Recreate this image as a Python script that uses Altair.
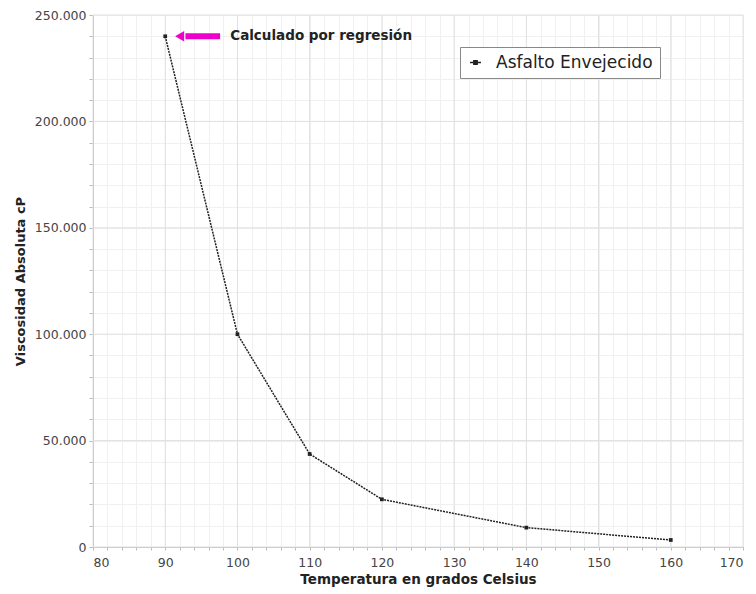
import altair as alt
import pandas as pd
import numpy as np

# Data
temps = [90, 100, 110, 120, 140, 160]
visc = [240000, 100000, 43700, 22400, 9100, 3300]
series_name = "Asfalto Envejecido"

# Axis ticks
x_major = [80, 90, 100, 110, 120, 130, 140, 150, 160, 170]
y_major = [0, 50000, 100000, 150000, 200000, 250000]
x_minor = list(range(80, 171, 2))
y_minor = list(range(0, 250001, 10000))

# Annotation
ann_text = "Calculado por regresión"
ann_y = [240000]
arrow_x = [92.0, 97.6]
text_x = [99.0]

df = pd.DataFrame({"T": temps, "V": visc, "s": [series_name] * len(temps)})

xs = alt.Scale(domain=[80, 170], nice=False, zero=False)
ys = alt.Scale(domain=[0, 250000], nice=False)

FONT = "DejaVu Sans"

x_axis = alt.Axis(
    values=x_minor, grid=True, gridColor="#f0f0f0", gridWidth=1,
    labelExpr="datum.value % 10 == 0 ? datum.value : ''",
    labelOverlap=False, labelFont=FONT, labelFontSize=12.5, labelColor="#444",
    tickSize=3, tickColor="#bbb", domainColor="#bbb", labelPadding=6,
    title="Temperatura en grados Celsius", titleFont=FONT, titleFontSize=13.5,
    titleFontWeight="bold", titleColor="#222", titlePadding=4,
)
y_axis = alt.Axis(
    values=y_minor, grid=True, gridColor="#f0f0f0", gridWidth=1,
    labelExpr="datum.value % 50000 == 0 ? replace(format(datum.value, ','), ',', '.') : ''",
    labelOverlap=False, labelFont=FONT, labelFontSize=12.5, labelColor="#444",
    tickSize=4, tickColor="#bbb", domainColor="#bbb", labelPadding=3,
    title="Viscosidad Absoluta cP", titleFont=FONT, titleFontSize=13,
    titleFontWeight="bold", titleColor="#222", titlePadding=7,
)

base = alt.Chart(df)

# major grid lines
xg = alt.Chart(pd.DataFrame({"x": x_major})).mark_rule(color="#e0e0e0", strokeWidth=1).encode(
    x=alt.X("x:Q", scale=xs, axis=x_axis)
)
yg = alt.Chart(pd.DataFrame({"y": y_major})).mark_rule(color="#e0e0e0", strokeWidth=1).encode(
    y=alt.Y("y:Q", scale=ys, axis=y_axis)
)

line = base.mark_line(strokeDash=[2, 1], strokeWidth=1.5).encode(
    x=alt.X("T:Q", scale=xs, axis=x_axis),
    y=alt.Y("V:Q", scale=ys, axis=y_axis),
    color=alt.Color(
        "s:N", scale=alt.Scale(range=["#222"]),
        legend=alt.Legend(
            title=None, orient="none", legendX=367, legendY=32,
            labelFont=FONT, labelFontSize=17, labelColor="#222",
            symbolType="M-1,0H-0.3M0.3,0H1M-0.3,-0.3H0.3V0.3H-0.3Z",
            symbolStrokeWidth=1.5, symbolSize=120, symbolFillColor="#222",
            strokeColor="#888", padding=7, fillColor="white", labelOffset=12,
        ),
    ),
)
pts = base.mark_square(size=14, color="#222", opacity=1).encode(
    x=alt.X("T:Q", scale=xs, axis=x_axis), y=alt.Y("V:Q", scale=ys, axis=y_axis)
)

adf = pd.DataFrame({"x": [arrow_x[0] + 0.8], "x2": [arrow_x[1]], "y": ann_y})
arrow_body = alt.Chart(adf).mark_rule(color="#ee00cc", strokeWidth=6).encode(
    x=alt.X("x:Q", scale=xs, axis=x_axis), x2="x2:Q", y=alt.Y("y:Q", scale=ys, axis=y_axis)
)
arrow_head = alt.Chart(pd.DataFrame({"x": [arrow_x[0]], "y": ann_y})).mark_point(
    shape="triangle-left", size=110, filled=True, color="#ee00cc", opacity=1
).encode(x=alt.X("x:Q", scale=xs, axis=x_axis), y=alt.Y("y:Q", scale=ys, axis=y_axis))
ann = alt.Chart(pd.DataFrame({"x": text_x, "y": ann_y, "t": [ann_text]})).mark_text(
    align="left", baseline="middle", font=FONT, fontSize=13.5, fontWeight="bold", color="#222"
).encode(x=alt.X("x:Q", scale=xs, axis=x_axis), y=alt.Y("y:Q", scale=ys, axis=y_axis), text="t:N")

chart = alt.layer(xg, yg, line, pts, arrow_body, arrow_head, ann).properties(
    width=650, height=532,
    autosize=alt.AutoSizeParams(type="none"),
    padding={"left": 85, "top": 7, "right": 5, "bottom": 40},
).configure_view(stroke=None).configure(background="white").configure_axis(
    labelOverlap=False, labelBound=False
)

chart.save("out.html", embed_options={"renderer": "svg", "actions": False})
